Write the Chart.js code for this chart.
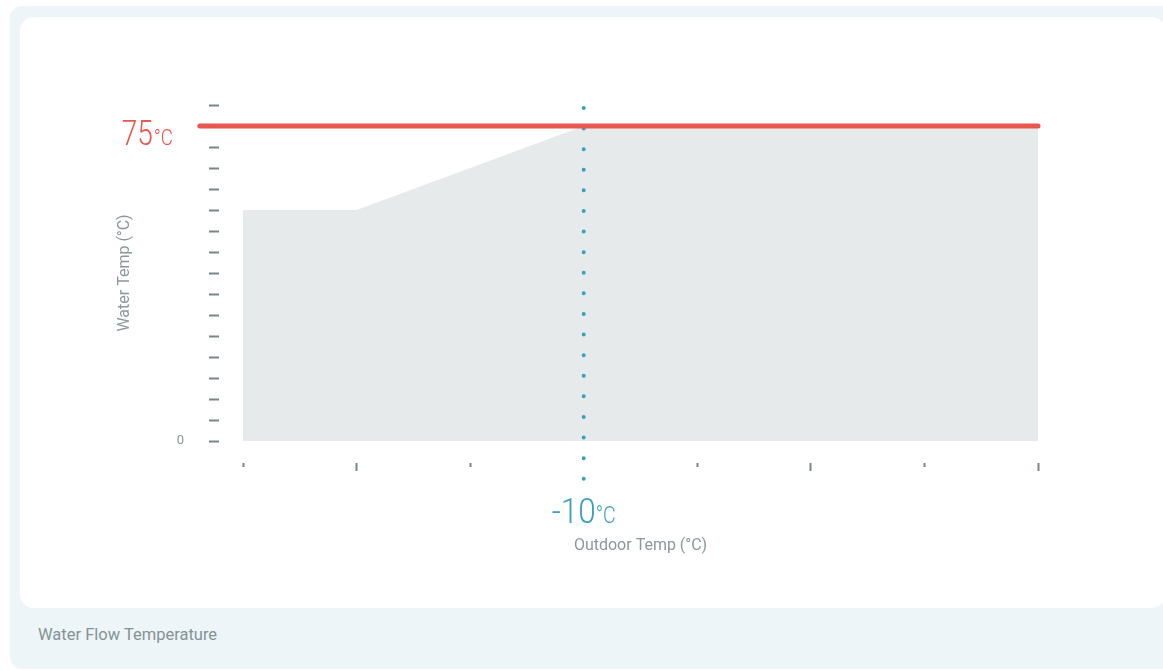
<!DOCTYPE html>
<html>
<head>
<meta charset="utf-8">
<script src="https://cdn.jsdelivr.net/npm/chart.js@4.4.0/dist/chart.umd.min.js"></script>
<style>
  html, body { margin: 0; padding: 0; background: #ffffff; }
  body { width: 1163px; height: 671px; position: relative; overflow: hidden; font-family: Roboto, "Noto Sans", sans-serif; }
  .panel { position: absolute; left: 10px; top: 6px; width: 1170px; height: 663px; background: #eef5f9; border-radius: 12px; }
  .card { position: absolute; left: 20px; top: 17px; width: 1145px; height: 591px; background: #ffffff; border-radius: 14px; }
  .caption { position: absolute; left: 38px; top: 625px; font-size: 16.5px; color: #849293; }
  canvas { position: absolute; left: 0; top: 0; }
</style>
</head>
<body>
<div class="panel"></div>
<div class="card"></div>
<div class="caption">Water Flow Temperature</div>
<canvas id="myChart" width="1163" height="671"></canvas>
<script>
// values
const outdoorTicks = [-25, -20, -15, -10, -5, 0, 5, 10];
const longTicks = [-20, 0, 10];
const curveOutdoor = [-25, -20, -10, 10];
const curveWater = [55, 55, 75, 75];
const maxWaterTemp = 75;
const maxLineOutdoor = [-26.9, 10];
const designOutdoor = -10;
const designLineWater = [79.3, -9];

const red = '#e8564e';
const teal = '#3a9fbb';
const tickGray = '#76878a';
const textGray = '#8a9899';

const curveData = curveOutdoor.map((x, i) => ({ x: x, y: curveWater[i] }));
const maxLineData = maxLineOutdoor.map(x => ({ x: x, y: maxWaterTemp }));
const designData = designLineWater.map(y => ({ x: designOutdoor, y: y }));

// text squeezed sideways, the picture uses a narrow face
function narrowText(ctx, text, x, y, font, sx) {
    ctx.save();
    ctx.font = font;
    ctx.scale(sx, 1);
    ctx.textAlign = 'left';
    ctx.fillText(text, x / sx, y);
    ctx.restore();
}
function narrowWidth(ctx, text, font, sx) {
    ctx.save();
    ctx.font = font;
    const w = ctx.measureText(text).width * sx;
    ctx.restore();
    return w;
}

// big coloured labels, "75°C" and "-10°C"
const bigLabels = {
    id: 'bigLabels',
    afterDraw(chart) {
        const ctx = chart.ctx;
        const xs = chart.scales.x, ys = chart.scales.y;
        const bigFont = '300 35px Roboto';
        const unitFont = '300 22px Roboto';
        ctx.save();
        ctx.textBaseline = 'alphabetic';

        // 75°C at the left of the red line
        let y = ys.getPixelForValue(maxWaterTemp) + 19;
        const right = chart.chartArea.left - 70;
        ctx.fillStyle = red;
        const uw = narrowWidth(ctx, '°C', unitFont, 0.85);
        const nw = narrowWidth(ctx, String(maxWaterTemp), bigFont, 0.8);
        narrowText(ctx, '°C', right - uw, y, unitFont, 0.85);
        narrowText(ctx, String(maxWaterTemp), right - uw - nw - 1, y, bigFont, 0.8);

        // -10°C under the dotted line
        const cx = xs.getPixelForValue(designOutdoor);
        y = chart.chartArea.bottom + 82;
        const nw2 = narrowWidth(ctx, String(designOutdoor), bigFont, 0.9);
        const uw2 = narrowWidth(ctx, '°C', '300 23px Roboto', 0.85);
        const start = cx - (nw2 + uw2) / 2;
        ctx.fillStyle = teal;
        narrowText(ctx, String(designOutdoor), start, y, bigFont, 0.9);
        narrowText(ctx, '°C', start + nw2, y, '300 23px Roboto', 0.85);
        ctx.restore();
    }
};

const ctx = document.getElementById('myChart').getContext('2d');
new Chart(ctx, {
    type: 'line',
    data: {
        datasets: [{
            label: 'max',
            data: maxLineData,
            borderColor: red,
            borderWidth: 5,
            borderCapStyle: 'round',
            pointRadius: 0,
            clip: false,
            order: 1
        }, {
            label: 'design',
            data: designData,
            borderColor: teal,
            borderWidth: 4,
            borderDash: [0, 20.6],
            borderCapStyle: 'round',
            pointRadius: 0,
            clip: false,
            order: 2
        }, {
            label: 'curve',
            data: curveData,
            borderColor: 'rgba(0,0,0,0)',
            borderWidth: 0,
            backgroundColor: '#e6eaeb',
            fill: 'origin',
            pointRadius: 0,
            order: 3
        }]
    },
    options: {
        responsive: false,
        animation: false,
        layout: { padding: { left: 100, right: 125, top: 105, bottom: 110 } },
        plugins: {
            legend: { display: false },
            tooltip: { enabled: false }
        },
        scales: {
            x: {
                type: 'linear',
                min: -25,
                max: 10,
                afterBuildTicks: scale => { scale.ticks = outdoorTicks.map(v => ({ value: v })); },
                afterFit: scale => { scale.height = 120; },
                border: { display: false },
                grid: {
                    drawOnChartArea: false,
                    tickLength: 30,
                    tickWidth: 2,
                    tickColor: c => c.tick && c.tick.value === designOutdoor ? 'rgba(0,0,0,0)' : tickGray,
                    tickBorderDash: c => c.tick && longTicks.includes(c.tick.value) ? [8, 22] : [4, 26],
                    tickBorderDashOffset: 8
                },
                ticks: { callback: () => '' },
                title: {
                    display: true,
                    text: 'Outdoor Temp (°C)',
                    color: textGray,
                    font: { family: 'Roboto', size: 16 },
                    padding: { top: 0, bottom: 5 }
                }
            },
            y: {
                min: 0,
                max: 80,
                afterFit: scale => { scale.width = 143; },
                border: { display: false },
                grid: {
                    drawOnChartArea: false,
                    tickLength: 34,
                    tickWidth: 2,
                    tickColor: tickGray,
                    tickBorderDash: [10, 24],
                    tickBorderDashOffset: 0
                },
                ticks: {
                    stepSize: 5,
                    padding: 25,
                    color: textGray,
                    font: { family: 'Roboto', size: 13 },
                    callback: v => v === 0 ? '0' : ''
                },
                title: {
                    display: true,
                    text: 'Water Temp (°C)',
                    color: textGray,
                    font: { family: 'Roboto', size: 16 },
                    padding: { top: 15, bottom: 0 }
                }
            }
        }
    },
    plugins: [bigLabels]
});
</script>
</body>
</html>
